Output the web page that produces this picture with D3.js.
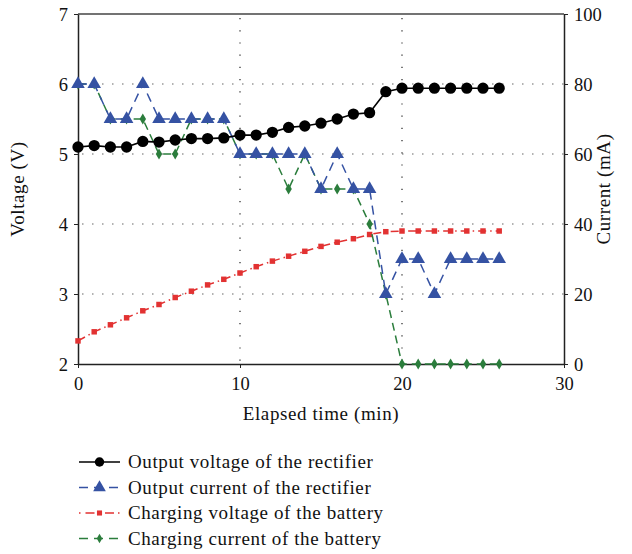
<!DOCTYPE html>
<html>
<head>
<meta charset="utf-8">
<script src="https://cdn.jsdelivr.net/npm/d3@7"></script>
<style>
  html, body { margin: 0; padding: 0; background: #fff; }
</style>
</head>
<body>
<svg id="chart" width="632" height="554"></svg>
<script>
/* Rectifier / battery charging curves — dual axis (V left, mA right) */
const minutes = d3.range(0, 27);

const rectVoltage = [5.10, 5.12, 5.10, 5.10, 5.18, 5.17, 5.20, 5.22, 5.22, 5.23,
  5.27, 5.27, 5.31, 5.38, 5.40, 5.44, 5.50, 5.57, 5.59, 5.89,
  5.94, 5.94, 5.94, 5.94, 5.94, 5.94, 5.94];
const rectCurrent = [80, 80, 70, 70, 80, 70, 70, 70, 70, 70,
  60, 60, 60, 60, 60, 50, 60, 50, 50, 20,
  30, 30, 20, 30, 30, 30, 30];
const battVoltage = [2.33, 2.46, 2.56, 2.66, 2.76, 2.85, 2.95, 3.04, 3.13, 3.21,
  3.30, 3.39, 3.47, 3.54, 3.61, 3.68, 3.74, 3.79, 3.85, 3.89,
  3.90, 3.90, 3.90, 3.90, 3.90, 3.90, 3.90];
const battCurrent = [80, 80, 70, 70, 70, 60, 60, 70, 70, 70,
  60, 60, 60, 50, 60, 50, 50, 50, 40, 20,
  0, 0, 0, 0, 0, 0, 0];

const xTicks = [0, 10, 20, 30];
const vTicks = [2, 3, 4, 5, 6, 7];
const iTicks = [0, 20, 40, 60, 80, 100];

const seriesNames = [
  "Output voltage of the rectifier",
  "Output current of the rectifier",
  "Charging voltage of the battery",
  "Charging current of the battery"
];

const FONT = '"Liberation Serif"';
const FS = "18.5px";

const L = 78, R = 564, T = 14, B = 364;
const x = d3.scaleLinear().domain([0, 30]).range([L, R]);
const yV = d3.scaleLinear().domain([2, 7]).range([B, T]);
const yI = d3.scaleLinear().domain([0, 100]).range([B, T]);

const svg = d3.select("#chart");

// grid
const grid = svg.append("g");
grid.selectAll("line.h").data([3, 4, 5, 6]).join("line")
  .attr("x1", L + 4).attr("x2", R).attr("y1", d => yV(d)).attr("y2", d => yV(d))
  .attr("stroke", "#999").attr("stroke-width", 1.5).attr("stroke-dasharray", "1.5,8.5");
grid.selectAll("line.v").data([10, 20]).join("line")
  .attr("x1", d => x(d)).attr("x2", d => x(d)).attr("y1", T + 4).attr("y2", B)
  .attr("stroke", "#222").attr("stroke-width", 1.2).attr("stroke-dasharray", "1.2,11");

// frame top
svg.append("line").attr("x1", L).attr("x2", R).attr("y1", T).attr("y2", T)
  .attr("stroke", "#444").attr("stroke-width", 1.3);

// axes
const fmt = d3.format("d");
const gx = svg.append("g").attr("transform", `translate(0,${B})`)
  .call(d3.axisBottom(x).tickValues(xTicks).tickFormat(fmt).tickSize(4).tickSizeOuter(0));
gx.selectAll("text").attr("dy", "1.0em");
const gl = svg.append("g").attr("transform", `translate(${L},0)`)
  .call(d3.axisLeft(yV).tickValues(vTicks).tickFormat(fmt).tickSize(4).tickSizeOuter(0));
gl.selectAll("text").attr("x", -10).attr("dy", "0.33em");
const gr = svg.append("g").attr("transform", `translate(${R},0)`)
  .call(d3.axisRight(yI).tickValues(iTicks).tickFormat(fmt).tickSize(4).tickSizeOuter(0));
gr.selectAll("text").attr("x", 10).attr("dy", "0.33em");
[gx, gl, gr].forEach(g => {
  g.attr("font-family", null).attr("font-size", null);
  g.select(".domain").attr("stroke", "#222").attr("stroke-width", 1.5);
  g.selectAll(".tick line").attr("stroke", "#222");
  g.selectAll("text").style("font-family", FONT).style("font-size", FS).attr("fill", "#111");
});

// axis titles + legend text: Minion-ish width via slight letter spacing
function title(sel) {
  return sel.style("font-family", FONT).style("font-size", "19px")
    .style("letter-spacing", "0.6px").attr("fill", "#111");
}
title(svg.append("text")).attr("x", (L + R) / 2).attr("y", 420).attr("text-anchor", "middle")
  .text("Elapsed time (min)");
title(svg.append("text")).attr("transform", `translate(24,${(T + B) / 2}) rotate(-90)`)
  .attr("text-anchor", "middle").text("Voltage (V)");
title(svg.append("text")).attr("transform", `translate(610,${(T + B) / 2}) rotate(-90)`)
  .attr("text-anchor", "middle").text("Current (mA)");

// series config
const styles = [
  { vals: rectVoltage, y: yV, color: "#000", dash: null, sym: d3.symbolCircle, size: 100, lw: 1.6 },
  { vals: rectCurrent, y: yI, color: "#3552a3", dash: "9,6", sym: d3.symbolTriangle, size: 80, lw: 1.5 },
  { vals: battVoltage, y: yV, color: "#e23232", dash: "8,4,1.5,4", sym: d3.symbolSquare, size: 30, lw: 1.5 },
  { vals: battCurrent, y: yI, color: "#2b7d3c", dash: "8,5", sym: d3.symbolDiamond, size: 36, lw: 1.5 }
];

// draw order: red, green, blue, black
const order = [2, 3, 1, 0];
order.forEach(i => {
  const s = styles[i];
  const line = d3.line().x((d, k) => x(minutes[k])).y(d => s.y(d));
  const g = svg.append("g");
  g.append("path").datum(s.vals).attr("d", line).attr("fill", "none")
    .attr("stroke", s.color).attr("stroke-width", s.lw)
    .attr("stroke-dasharray", s.dash);
  g.selectAll("path.m").data(s.vals).join("path").attr("class", "m")
    .attr("transform", (d, k) => `translate(${x(minutes[k])},${s.y(d)})`)
    .attr("d", d3.symbol().type(s.sym).size(s.size))
    .attr("fill", s.color);
});

// legend
const leg = svg.append("g");
seriesNames.forEach((name, i) => {
  const s = styles[i];
  const yy = 462 + i * 25.5;
  leg.append("line").attr("x1", 79).attr("x2", 120).attr("y1", yy).attr("y2", yy)
    .attr("stroke", s.color).attr("stroke-width", s.lw)
    .attr("stroke-dasharray", i === 0 ? null : (i === 2 ? "1.5,5,9,4" : "9,6"));
  leg.append("path").attr("transform", `translate(99.5,${yy})`)
    .attr("d", d3.symbol().type(s.sym).size(i === 0 ? 70 : (i === 1 ? 70 : 26)))
    .attr("fill", s.color);
  title(leg.append("text")).attr("x", 128).attr("y", yy).attr("dy", "0.33em").text(name);
});
</script>
</body>
</html>
